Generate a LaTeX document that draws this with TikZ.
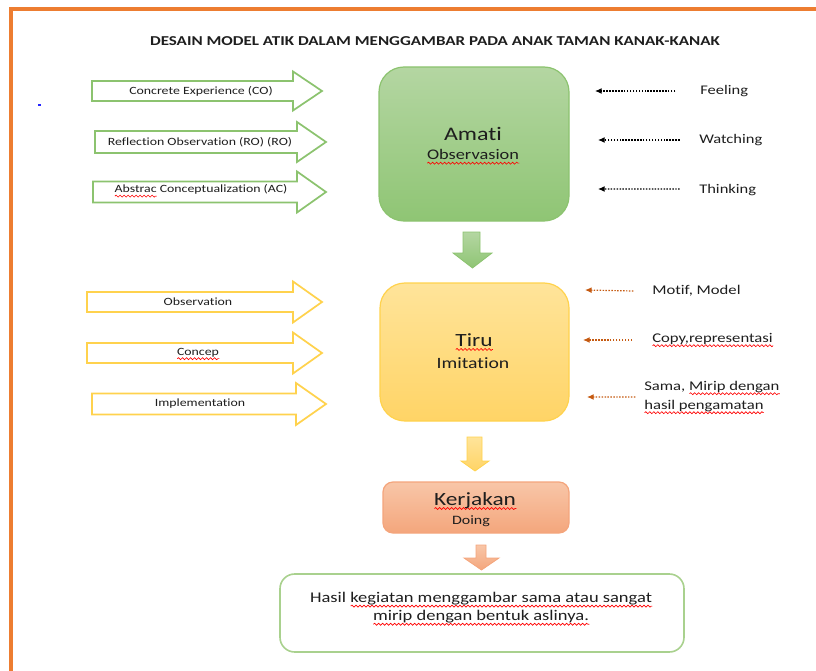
\documentclass[tikz,border=0pt]{standalone}
\usepackage{fontspec}
\setmainfont{Carlito}[FakeStretch=1.25, Ligatures=NoCommon]
\usetikzlibrary{arrows.meta,decorations.pathmorphing}
\newsavebox\sqbox
\newcommand\sq[1]{\sbox\sqbox{#1}\leavevmode\rlap{\tikz[baseline=0pt]\draw[red, line width=0.5pt, decorate, decoration={snake, amplitude=0.75pt, segment length=3pt}] (0pt,-2.6pt) -- (\wd\sqbox,-2.6pt);}\usebox\sqbox}
\definecolor{frameor}{HTML}{ED7D31}
\definecolor{gline}{HTML}{8CC36F}
\definecolor{gtop}{HTML}{B4D6A2}
\definecolor{gbot}{HTML}{8FC574}
\definecolor{yline}{HTML}{FFD24D}
\definecolor{ytop}{HTML}{FFE49A}
\definecolor{ybot}{HTML}{FFD466}
\definecolor{sline}{HTML}{F4A57C}
\definecolor{stop}{HTML}{F8C6A8}
\definecolor{sbot}{HTML}{F4A67C}
\definecolor{darkor}{HTML}{C55A11}
\definecolor{txt}{HTML}{1E1E1E}
\definecolor{lgline}{HTML}{A9D18E}
\newcommand\barrow[7]{\draw[#1] (#2,{#5-#6}) -- (#3,{#5-#6}) -- (#3,{#5-#7}) -- (#4,#5) -- (#3,{#5+#7}) -- (#3,{#5+#6}) -- (#2,{#5+#6}) -- cycle;}
\newcommand\darrow[8]{\draw[#1] (#2,#4) -- (#3,#4) -- (#3,#5) -- (#7,#5) -- ({(#6+#7)/2},#8) -- (#6,#5) -- (#2,#5) -- cycle;}
\begin{document}
\begin{tikzpicture}[x=0.75pt,y=-0.75pt,
  every node/.style={text=txt, inner sep=0pt},
  ttl/.style={font=\bfseries\fontsize{10.2}{12}\selectfont},
  atext/.style={font=\fontsize{8.3}{10}\selectfont},
  side/.style={font=\fontsize{9.9}{12}\selectfont, anchor=west},
  sideb/.style={font=\fontsize{10}{14.2}\selectfont, anchor=west, align=left},
  big/.style={font=\fontsize{14.4}{16}\selectfont},
  mid/.style={font=\fontsize{11}{13}\selectfont},
  garrow/.style={draw=gline, line width=1.3pt, fill=white},
  yarrow/.style={draw=yline, line width=1.3pt, fill=white},
  boxg/.style={draw=gline, line width=0.9pt, top color=gtop, bottom color=gbot, rounded corners=18.75pt},
  boxy/.style={draw=yline, line width=0.9pt, top color=ytop, bottom color=ybot, rounded corners=18.75pt},
  boxs/.style={draw=sline, line width=0.9pt, top color=stop, bottom color=sbot, rounded corners=7.5pt},
  boxw/.style={draw=lgline, line width=1.2pt, fill=white, rounded corners=11pt},
  dgreen/.style={draw=gline, line width=0.6pt, top color=gtop, bottom color=gbot},
  dyellow/.style={draw=yline, line width=0.6pt, top color=ytop, bottom color=ybot},
  dsalmon/.style={draw=sline, line width=0.6pt, top color=stop, bottom color=sbot},
  dotarr/.style={black, line width=0.9pt, dash pattern=on 1.1pt off 1.1pt, -{Latex[length=5pt,width=4.5pt]}},
  odotarr/.style={darkor, line width=0.9pt, dash pattern=on 1.1pt off 1.1pt, -{Latex[length=5pt,width=4.5pt]}}
]
\useasboundingbox (0,0) rectangle (816,670);
% frame
\draw[frameor, line width=2.3pt] (11,672) -- (11,9) -- (818,9);
\fill[blue!85] (38,104) rectangle (41,106.5);
% title
\node[ttl] (title) at (435,41) {DESAIN MODEL ATIK DALAM MENGGAMBAR PADA ANAK TAMAN KANAK-KANAK};
% green arrows
\barrow{garrow}{92}{293}{322}{91}{10}{19.5}
\barrow{garrow}{95}{297}{326}{142}{11}{20}
\barrow{garrow}{93}{297}{326}{192}{10.5}{20.5}
\node[atext] (ce) at (201,91) {Concrete Experience (CO)};
\node[atext] (ro) at (200,142) {Reflection Observation (RO) (RO)};
\node[atext] (ac) at (201,191) {\sq{Abstrac} Conceptualization (AC)};
% yellow arrows
\barrow{yarrow}{87}{293}{322}{302}{10}{20.5}
\barrow{yarrow}{87}{293}{322}{353}{10}{20.5}
\barrow{yarrow}{92}{296}{326}{404}{10.5}{21}
\node[atext] (ob) at (198,302) {Observation};
\node[atext] (co) at (198,354) {\sq{Concep}};
\node[atext] (im) at (200,404) {Implementation};
% boxes
\node[boxg, minimum width=142.5pt, minimum height=115.5pt] (amati) at (474,144) {};
\node[big] (amatit) at (473,134) {Amati};
\node[mid] (obst) at (473,157) {\sq{Observasion}};
\node[boxy, minimum width=141.75pt, minimum height=103.5pt] (tiru) at (474.5,352) {};
\node[font=\fontsize{14}{16}\selectfont] (tirut) at (474,342) {\sq{Tiru}};
\node[font=\fontsize{11.8}{14}\selectfont] (imit) at (473,363) {Imitation};
\node[boxs, minimum width=139.5pt, minimum height=38.25pt] (kerja) at (476,507.5) {};
\node[font=\fontsize{14}{16}\selectfont] (kerjat) at (475,501) {\sq{Kerjakan}};
\node[font=\fontsize{9.6}{12}\selectfont] (doing) at (471,521) {Doing};
\node[boxw, minimum width=303pt, minimum height=58.5pt] (hasil) at (482,613) {};
\node[font=\fontsize{11.1}{13.6}\selectfont, align=center] (hasilt) at (481,609) {Hasil \sq{kegiatan menggambar sama atau sangat}\\ \sq{mirip dengan bentuk aslinya.}};
% down arrows
\darrow{dgreen}{463}{480}{232}{253}{453}{492}{268}
\darrow{dyellow}{467}{482}{437}{461}{461}{489}{471}
\darrow{dsalmon}{476}{486}{545}{558}{464}{499}{570}
% right labels (black)
\node[side] (feel) at (700,91) {Feeling};
\node[side] (watch) at (699,140) {Watching};
\node[side] (think) at (699,190) {Thinking};
\coordinate (f1) at (595,91);
\coordinate (w1) at (598,140);
\coordinate (t1) at (598,189);
\draw[dotarr] ([xshift=-18.5pt]feel.west) -- (f1);
\draw[dotarr] ([xshift=-14.5pt]watch.west) -- (w1);
\draw[dotarr] ([xshift=-14.5pt,yshift=0.7pt]think.west) -- (t1);
% right labels (orange)
\node[side, font=\fontsize{10}{12}\selectfont] (motif) at (652,291) {Motif, Model};
\node[side, font=\fontsize{10}{12}\selectfont] (copy) at (652,340) {\sq{Copy,representasi}};
\node[sideb] (sama) at (644,397.5) {Sama, \sq{Mirip dengan}\\ \sq{hasil pengamatan}};
\coordinate (m1) at (585,290);
\coordinate (c1) at (583,340);
\coordinate (s1) at (587,397);
\draw[odotarr] ([xshift=-14pt]motif.west) -- (m1);
\draw[odotarr] ([xshift=-15pt]copy.west) -- (c1);
\draw[odotarr] ([xshift=-6.5pt,yshift=0.4pt]sama.west) -- (s1);
\end{tikzpicture}
\end{document}
